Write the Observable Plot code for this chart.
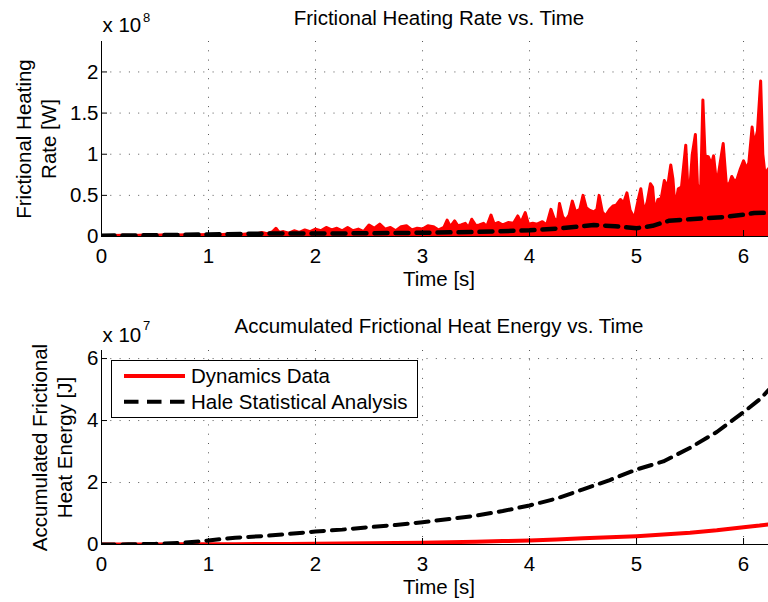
<!DOCTYPE html>
<html>
<head>
<meta charset="utf-8">
<script src="https://cdn.jsdelivr.net/npm/d3@7"></script>
<script src="https://cdn.jsdelivr.net/npm/@observablehq/plot@0.6"></script>
<style>
  html, body { margin: 0; padding: 0; background: #fff; overflow: hidden; }
  #chart { width: 768px; height: 602px; overflow: hidden; position: relative; }
  #chart svg { display: block; }
</style>
</head>
<body>
<div id="chart"></div>
<script>
// ---------- Data ----------
// Top panel: frictional heating rate (units of 1e8 W)
const rateTime = [0.00,0.10,0.20,0.30,0.40,0.50,0.60,0.70,0.80,0.90,1.00,1.10,1.20,1.30,1.40,1.45,1.50,1.55,1.60,1.63,1.66,1.70,1.75,1.80,1.85,1.90,1.95,2.00,2.05,2.10,2.15,2.20,2.25,2.30,2.35,2.40,2.45,2.50,2.55,2.60,2.65,2.70,2.75,2.80,2.85,2.90,2.95,3.00,3.05,3.10,3.15,3.20,3.23,3.26,3.30,3.33,3.36,3.40,3.43,3.46,3.50,3.53,3.57,3.60,3.64,3.67,3.71,3.75,3.80,3.85,3.89,3.92,3.96,3.99,4.03,4.07,4.12,4.16,4.20,4.23,4.26,4.28,4.31,4.34,4.37,4.40,4.43,4.47,4.50,4.53,4.56,4.60,4.63,4.65,4.68,4.71,4.75,4.78,4.81,4.85,4.88,4.91,4.94,4.98,5.00,5.02,5.04,5.07,5.10,5.13,5.15,5.17,5.20,5.23,5.26,5.29,5.32,5.34,5.36,5.39,5.42,5.46,5.48,5.50,5.52,5.55,5.57,5.60,5.62,5.64,5.67,5.70,5.72,5.75,5.78,5.81,5.84,5.87,5.89,5.92,5.94,5.97,6.00,6.03,6.05,6.08,6.10,6.13,6.16,6.18,6.20,6.23,6.26,6.30];
const rateValue = [0.010,0.012,0.015,0.013,0.018,0.016,0.020,0.018,0.022,0.020,0.025,0.022,0.030,0.025,0.035,0.030,0.050,0.035,0.060,0.100,0.050,0.060,0.040,0.070,0.050,0.080,0.060,0.090,0.070,0.110,0.080,0.100,0.070,0.110,0.070,0.090,0.060,0.140,0.100,0.150,0.090,0.110,0.070,0.120,0.130,0.080,0.100,0.090,0.130,0.120,0.080,0.110,0.200,0.120,0.190,0.130,0.140,0.160,0.110,0.210,0.130,0.140,0.160,0.120,0.260,0.150,0.170,0.140,0.170,0.160,0.250,0.170,0.290,0.150,0.160,0.150,0.180,0.140,0.330,0.220,0.180,0.400,0.240,0.200,0.260,0.430,0.300,0.330,0.500,0.350,0.320,0.300,0.330,0.500,0.300,0.250,0.330,0.370,0.380,0.450,0.410,0.530,0.320,0.220,0.350,0.470,0.580,0.300,0.420,0.640,0.600,0.300,0.450,0.460,0.680,0.600,0.870,0.700,0.350,0.580,0.600,1.110,0.580,0.620,0.990,1.240,0.600,0.620,1.660,0.980,0.970,0.880,0.980,0.620,0.880,1.130,0.620,0.650,0.730,0.660,0.700,0.820,0.920,0.820,0.900,1.330,1.120,1.280,1.890,1.000,0.760,0.820,0.850,0.800];
// Top panel: Hale statistical analysis rate (units of 1e8 W)
const haleRateTime  = [0.0,0.5,1.0,1.5,2.0,2.5,3.0,3.5,4.0,4.3,4.6,4.8,5.0,5.15,5.3,5.5,5.8,6.0,6.1,6.3];
const haleRateValue = [0.010,0.015,0.025,0.035,0.035,0.040,0.045,0.055,0.075,0.100,0.140,0.125,0.100,0.130,0.190,0.210,0.235,0.265,0.285,0.290];

// Bottom panel: accumulated energy (units of 1e7 J)
const energyTime = [0,0.25,0.5,0.75,1,1.25,1.5,1.75,2,2.25,2.5,2.75,3,3.25,3.5,3.75,4,4.25,4.5,4.75,5,5.25,5.5,5.75,6,6.15,6.3];
const dynEnergy  = [0,0,0.002,0.005,0.008,0.012,0.016,0.02,0.025,0.03,0.037,0.045,0.06,0.075,0.09,0.11,0.13,0.16,0.2,0.235,0.27,0.32,0.38,0.46,0.56,0.61,0.68];
const haleEnergy = [0,0.005,0.02,0.05,0.13,0.22,0.27,0.34,0.42,0.48,0.56,0.63,0.72,0.82,0.93,1.08,1.26,1.48,1.78,2.08,2.42,2.68,3.12,3.63,4.27,4.68,5.22];

// Ticks & labels
const xTicks = [0,1,2,3,4,5,6];
const topYTicks = [0,0.5,1,1.5,2];
const bottomYTicks = [0,2,4,6];
const topTitle = "Frictional Heating Rate vs. Time";
const bottomTitle = "Accumulated Frictional Heat Energy vs. Time";
const topYLabel = "Frictional Heating\nRate [W]";
const bottomYLabel = "Accumulated Frictional\nHeat Energy [J]";
const xLabel = "Time [s]";
const topExponent = "8";
const bottomExponent = "7";
const seriesNames = ["Dynamics Data", "Hale Statistical Analysis"];
const seriesColors = ["#ff0000", "#000000"];

// ---------- Drawing ----------
const FONT = "'Liberation Sans', Arial, Helvetica, sans-serif";
const FS = 20.5;
const W = 776, ML = 101, XMAX = 6.308;
const DASH = "13,8";
const gridStyle = {stroke: "#444", strokeWidth: 1, strokeDasharray: "1,8.3", strokeOpacity: 0.9};

function panel(o) {
  const innerH = o.height - o.marginTop - o.marginBottom;
  const innerW = W - ML;
  const txt = {fontSize: FS, fill: "#000", lineAnchor: "middle"};
  return Plot.plot({
    width: W, height: o.height,
    marginLeft: ML, marginRight: 0, marginTop: o.marginTop, marginBottom: o.marginBottom,
    style: {fontFamily: FONT, fontSize: FS + "px", color: "#000", background: "#fff", maxWidth: "none", overflow: "visible"},
    x: {domain: [0, XMAX], label: null},
    y: {domain: [0, o.yMax], label: null},
    marks: [
      Plot.gridX(xTicks.slice(1), gridStyle),
      Plot.gridY(o.yTicks.slice(1), gridStyle),
      ...o.marks,
      Plot.tickX(xTicks, {x: d => d, insetTop: innerH - 6, stroke: "#000"}),
      Plot.tickY(o.yTicks, {y: d => d, insetRight: innerW - 6, stroke: "#000"}),
      Plot.ruleX([0], {stroke: "#000"}),
      Plot.ruleY([0], {stroke: "#000"}),
      Plot.axisX(xTicks, {tickSize: 0, tickPadding: 3, dy: 8.5, fontSize: FS, tickFormat: d => String(d)}),
      Plot.axisY(o.yTicks, {tickSize: 0, tickPadding: 3, fontSize: FS, tickFormat: d => String(d)}),
      Plot.text([o.title], {...txt, frameAnchor: "top", dy: o.titleDy}),
      Plot.text([xLabel], {...txt, frameAnchor: "bottom", dy: 43}),
      Plot.text([o.yLabel], {...txt, frameAnchor: "left", dx: o.yLabelDx, rotate: -90, textAnchor: "middle", lineHeight: 1.2}),
      Plot.text(["x 10"], {...txt, frameAnchor: "top-left", textAnchor: "start", dx: 1, dy: o.expDy}),
      Plot.text([o.exponent], {...txt, frameAnchor: "top-left", textAnchor: "start", dx: 41.5, dy: o.supDy, fontSize: 13})
    ]
  });
}

const topChart = panel({
  height: 300, marginTop: 41, marginBottom: 64, yMax: 2.37, yTicks: topYTicks,
  title: topTitle, titleDy: -23.5, yLabel: topYLabel, yLabelDx: -66,
  exponent: topExponent, expDy: -16, supDy: -23.5,
  marks: [
    Plot.areaY(rateTime, {x: (d, i) => rateTime[i], y: (d, i) => rateValue[i], fill: seriesColors[0], clip: true}),
    Plot.lineY(rateTime, {x: (d, i) => rateTime[i], y: (d, i) => rateValue[i], stroke: seriesColors[0], strokeWidth: 3, strokeLinejoin: "round", clip: true}),
    Plot.lineY(haleRateTime, {x: (d, i) => haleRateTime[i], y: (d, i) => haleRateValue[i], stroke: seriesColors[1], strokeWidth: 4.5, strokeDasharray: DASH, clip: true})
  ]
});

const bottomChart = panel({
  height: 302, marginTop: 50, marginBottom: 58, yMax: 6.26, yTicks: bottomYTicks,
  title: bottomTitle, titleDy: -24.5, yLabel: bottomYLabel, yLabelDx: -50,
  exponent: bottomExponent, expDy: -15, supDy: -25,
  marks: [
    Plot.lineY(energyTime, {x: (d, i) => energyTime[i], y: (d, i) => dynEnergy[i], stroke: seriesColors[0], strokeWidth: 4, clip: true}),
    Plot.lineY(energyTime, {x: (d, i) => energyTime[i], y: (d, i) => haleEnergy[i], stroke: seriesColors[1], strokeWidth: 4, strokeDasharray: DASH, clip: true})
  ]
});

// Legend (inside bottom panel, top-left)
const lg = d3.select(bottomChart).append("g")
  .attr("font-family", FONT).attr("font-size", FS).attr("text-anchor", "start");
lg.append("rect").attr("x", 111.5).attr("y", 60.5).attr("width", 306).attr("height", 57)
  .attr("fill", "#fff").attr("stroke", "#000").attr("stroke-width", 1);
seriesNames.forEach((name, i) => {
  const y = 76 + i * 25.7;
  lg.append("line").attr("x1", 124).attr("x2", 185).attr("y1", y).attr("y2", y)
    .attr("stroke", seriesColors[i]).attr("stroke-width", 4)
    .attr("stroke-dasharray", i === 1 ? "14.5,8.5" : null);
  lg.append("text").attr("x", 191).attr("y", y).attr("dy", "0.35em")
    .attr("text-anchor", "start").attr("fill", "#000").text(name);
});

const c = document.getElementById("chart");
c.appendChild(topChart);
c.appendChild(bottomChart);
</script>
</body>
</html>
